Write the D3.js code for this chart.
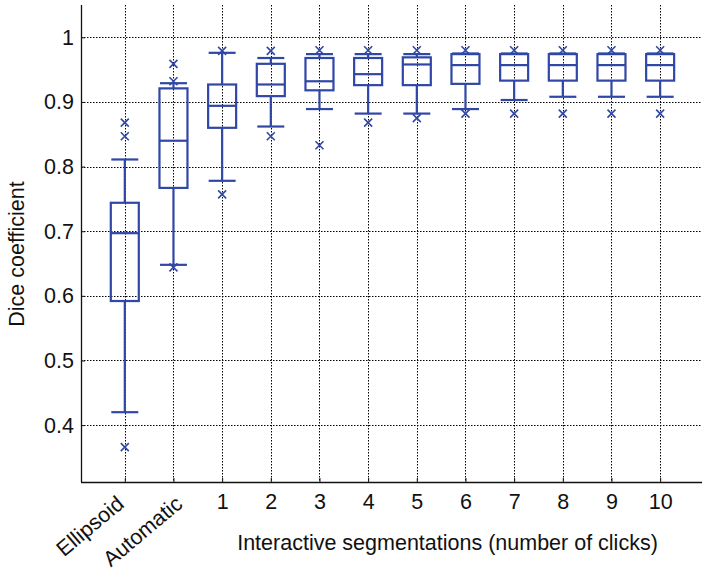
<!DOCTYPE html>
<html>
<head>
<meta charset="utf-8">
<script src="https://cdn.jsdelivr.net/npm/d3@7"></script>
<style>
  html, body { margin: 0; padding: 0; background: #fff; }
  svg { display: block; }
  text { font-family: "Liberation Sans", Arial, Helvetica, sans-serif; fill: #111; }
</style>
</head>
<body>
<svg id="chart" width="702" height="570"></svg>
<script>
// ---- data ----
const categories = ["Ellipsoid", "Automatic", "1", "2", "3", "4", "5", "6", "7", "8", "9", "10"];
const lowerWhisker = [0.420, 0.648, 0.778, 0.862, 0.889, 0.882, 0.882, 0.889, 0.903, 0.908, 0.908, 0.908];
const q1           = [0.592, 0.767, 0.860, 0.909, 0.918, 0.926, 0.926, 0.928, 0.933, 0.933, 0.933, 0.933];
const medians      = [0.697, 0.840, 0.894, 0.927, 0.932, 0.943, 0.958, 0.957, 0.957, 0.957, 0.957, 0.957];
const q3           = [0.744, 0.921, 0.927, 0.959, 0.968, 0.968, 0.969, 0.974, 0.974, 0.974, 0.974, 0.974];
const upperWhisker = [0.811, 0.929, 0.976, 0.968, 0.974, 0.974, 0.974, 0.975, 0.975, 0.975, 0.975, 0.975];
const outliers = [
  [0.868, 0.847, 0.366],
  [0.959, 0.932, 0.644],
  [0.979, 0.757],
  [0.979, 0.847],
  [0.980, 0.833],
  [0.980, 0.868],
  [0.980, 0.875],
  [0.980, 0.882],
  [0.980, 0.882],
  [0.980, 0.882],
  [0.980, 0.882],
  [0.980, 0.882]
];
const yTicks = [0.4, 0.5, 0.6, 0.7, 0.8, 0.9, 1.0];
const yLabel = "Dice coefficient";
const xLabel = "Interactive segmentations (number of clicks)";

// ---- layout ----
const svg = d3.select("#chart");
const mLeft = 81, mRight = 702, mTop = 5, mBottom = 482;
const blue = "#2f47a6";
const fs = 21.5;

const x = d3.scaleLinear().domain([-0.9, 11.86]).range([mLeft, mRight]);
const y = d3.scaleLinear().domain([0.312, 1.05]).range([mBottom, mTop]);

const idx = d3.range(categories.length);

// grid
const grid = svg.append("g").attr("stroke", "#000").attr("stroke-width", 1)
  .attr("stroke-dasharray", "1.5,1.5").attr("fill", "none");
grid.selectAll("line.h").data(yTicks).join("line").attr("class", "h")
  .attr("x1", mLeft).attr("x2", mRight)
  .attr("y1", d => Math.round(y(d)) + 0.5).attr("y2", d => Math.round(y(d)) + 0.5);
grid.selectAll("line.v").data(idx).join("line").attr("class", "v")
  .attr("x1", d => Math.round(x(d)) + 0.5).attr("x2", d => Math.round(x(d)) + 0.5)
  .attr("y1", mTop).attr("y2", mBottom);

// axes
const yAxis = d3.axisLeft(y).tickValues(yTicks)
  .tickFormat(d => d === 1 ? "1" : d3.format(".1f")(d))
  .tickSizeInner(-4).tickSizeOuter(0).tickPadding(7);
const gy = svg.append("g").attr("transform", `translate(${mLeft},0)`).call(yAxis);
gy.select(".domain").attr("d", `M0.5,${mTop}V${mBottom}`);

const xAxis = d3.axisBottom(x).tickValues(idx)
  .tickFormat(i => categories[i])
  .tickSizeInner(-4).tickSizeOuter(0).tickPadding(12);
const gx = svg.append("g").attr("transform", `translate(0,${mBottom})`).call(xAxis);
gx.select(".domain").attr("d", `M${mLeft},0.5H${mRight}`);

[gx, gy].forEach(g => {
  g.selectAll(".domain").attr("stroke", "#111").attr("stroke-width", 1.3);
  g.selectAll(".tick line").attr("stroke", "#111");
  g.selectAll("text").attr("font-size", fs).attr("fill", "#111")
    .attr("font-family", '"Liberation Sans", Arial, Helvetica, sans-serif');
});

// rotated labels for the first two categories
const rotOffset = [0, 10];
gx.selectAll(".tick text").filter(i => i < 2)
  .attr("text-anchor", "end")
  .attr("y", 0).attr("dy", 0)
  .attr("transform", i => `translate(${rotOffset[i]},24) rotate(-40)`);

// boxes
const boxW = 28, capW = 27;
const boxes = svg.append("g").attr("stroke", blue).attr("stroke-width", 2.2).attr("fill", "none");
idx.forEach(i => {
  const cx = x(i);
  const g = boxes.append("g");
  g.append("line").attr("x1", cx).attr("x2", cx).attr("y1", y(upperWhisker[i])).attr("y2", y(q3[i]));
  g.append("line").attr("x1", cx).attr("x2", cx).attr("y1", y(q1[i])).attr("y2", y(lowerWhisker[i]));
  g.append("line").attr("x1", cx - capW / 2).attr("x2", cx + capW / 2)
    .attr("y1", y(upperWhisker[i])).attr("y2", y(upperWhisker[i]));
  g.append("line").attr("x1", cx - capW / 2).attr("x2", cx + capW / 2)
    .attr("y1", y(lowerWhisker[i])).attr("y2", y(lowerWhisker[i]));
  g.append("rect").attr("x", cx - boxW / 2).attr("width", boxW)
    .attr("y", y(q3[i])).attr("height", y(q1[i]) - y(q3[i]));
  g.append("line").attr("x1", cx - boxW / 2).attr("x2", cx + boxW / 2)
    .attr("y1", y(medians[i])).attr("y2", y(medians[i]));
  const s = 4;
  outliers[i].forEach(v => {
    const py = y(v);
    g.append("path").attr("stroke-width", 1.6)
      .attr("d", `M${cx - s},${py - s}L${cx + s},${py + s}M${cx - s},${py + s}L${cx + s},${py - s}`);
  });
});

// axis titles
svg.append("text").attr("x", 447.5).attr("y", 549.5).attr("text-anchor", "middle")
  .attr("font-size", fs).text(xLabel);
svg.append("text").attr("transform", "translate(24,254) rotate(-90)")
  .attr("text-anchor", "middle").attr("font-size", fs).text(yLabel);
</script>
</body>
</html>
